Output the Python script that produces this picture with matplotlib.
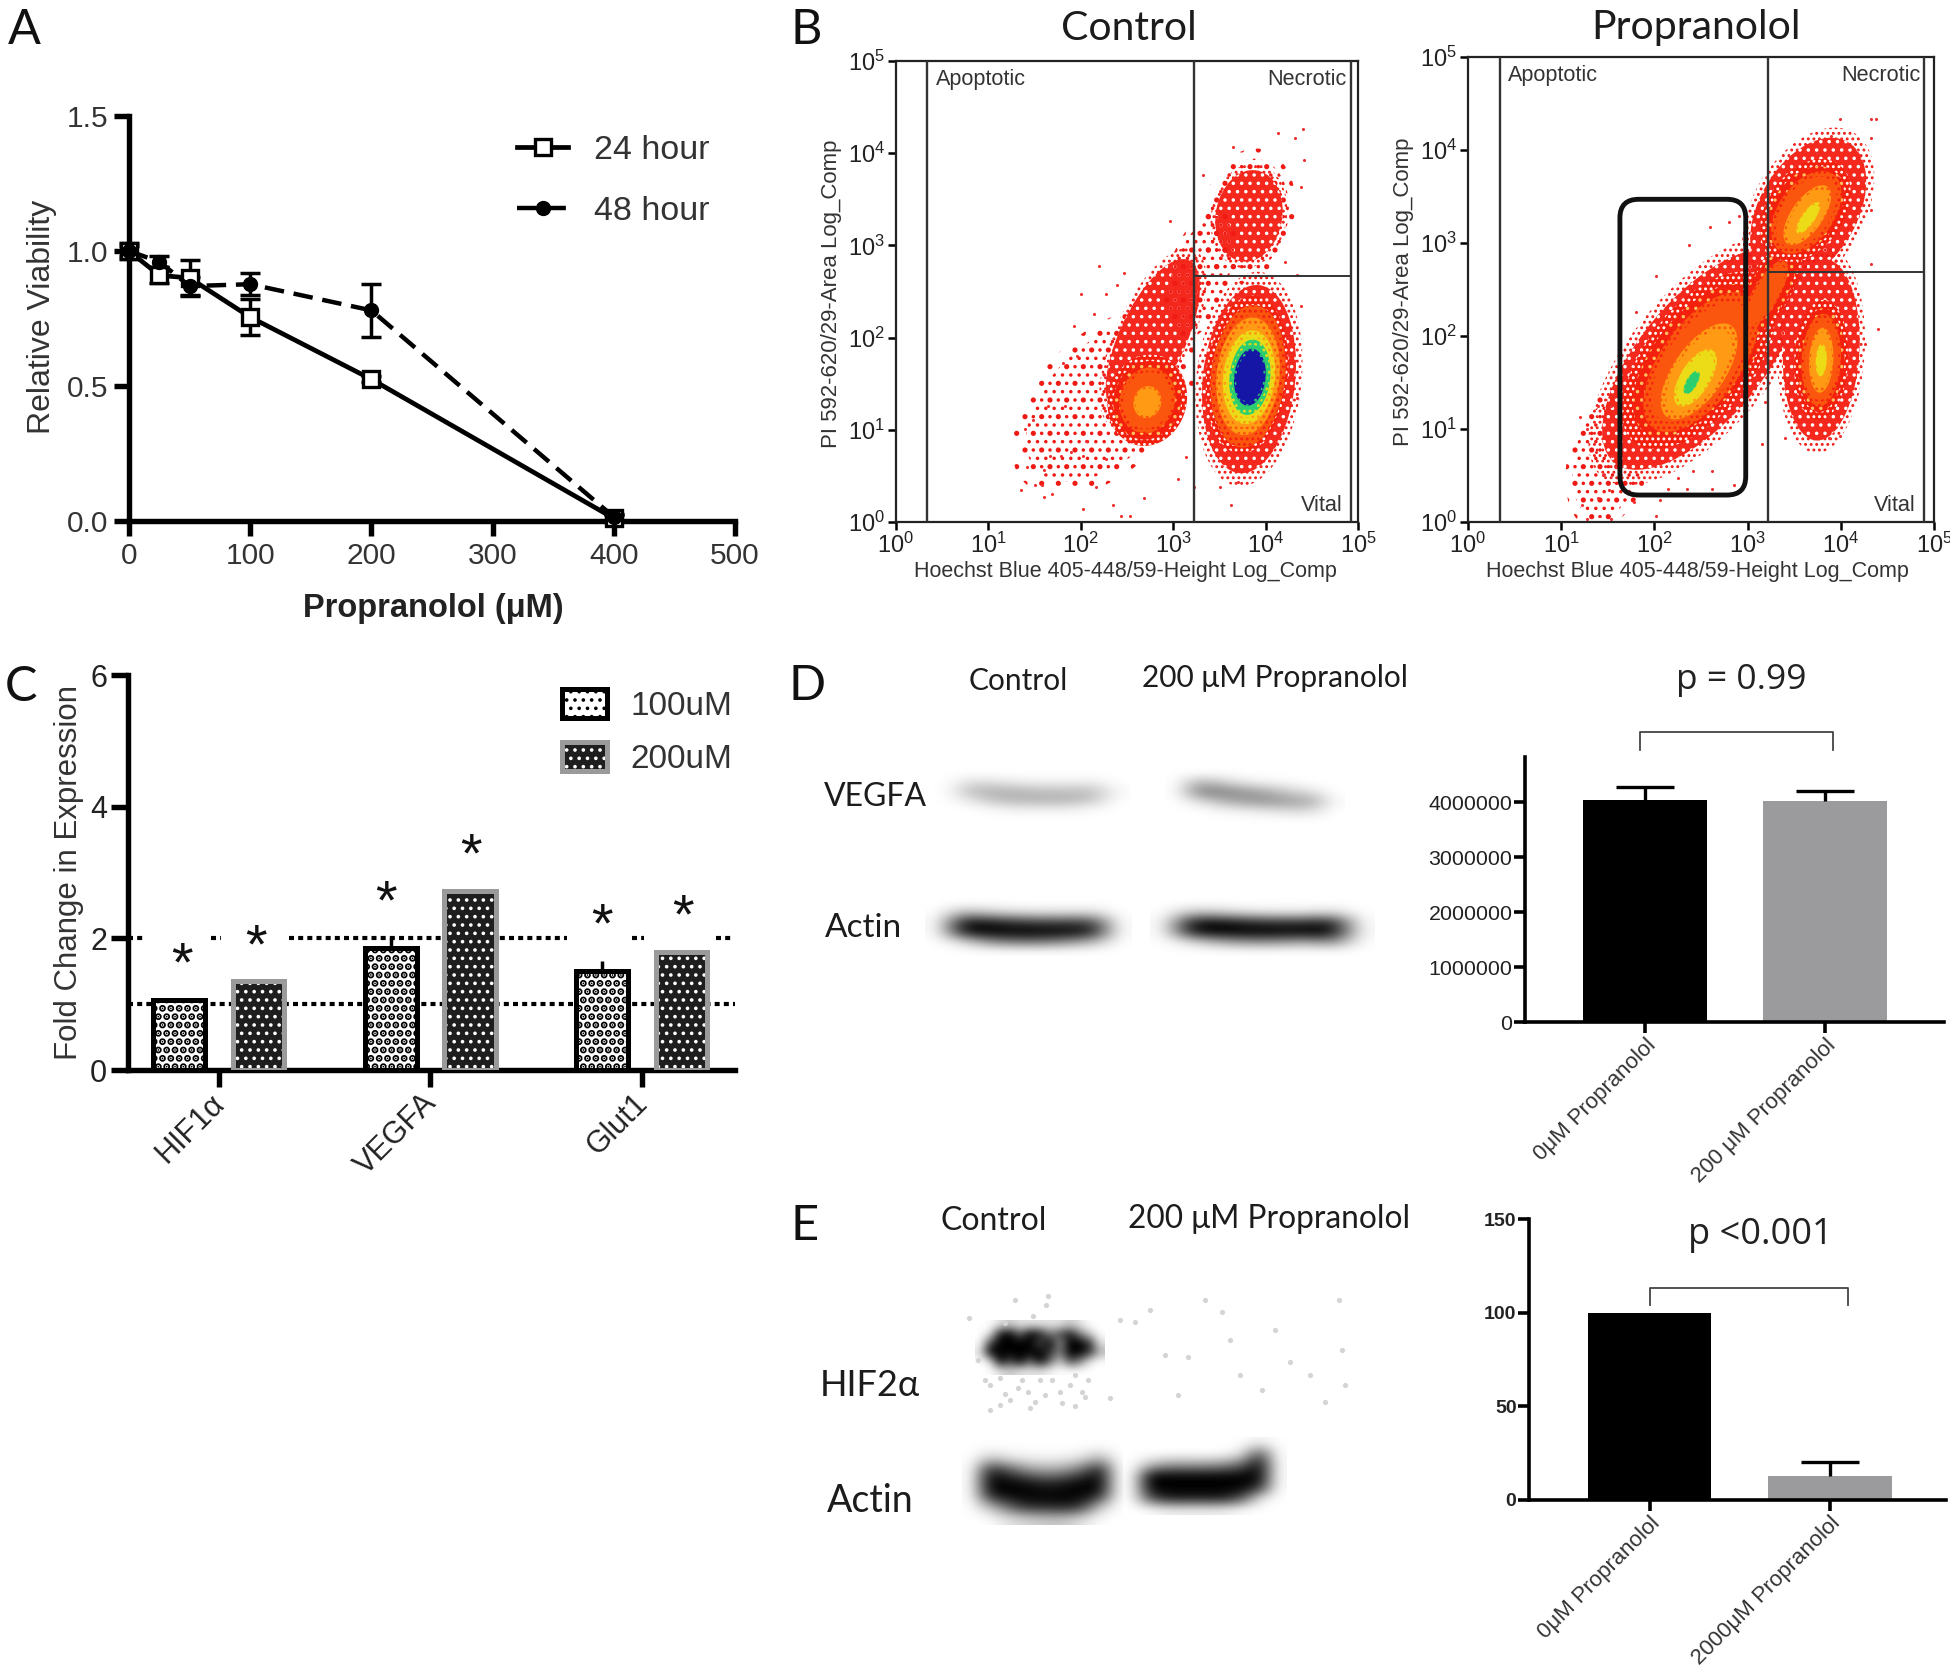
# plot.py - five panel propranolol figure
import numpy as np
import matplotlib
matplotlib.use('Agg')
import matplotlib.pyplot as plt
from matplotlib.patches import Ellipse, FancyBboxPatch, Patch
from matplotlib.transforms import ScaledTranslation

W, H = 1950, 1671
SANS = 'Liberation Sans'
CAL = ['Lato', 'DejaVu Sans']

# Panel A
dose = [0, 25, 50, 100, 200, 400]
via_24 = [1.0, 0.91, 0.90, 0.755, 0.525, 0.01]
err_24 = [0.03, 0.03, 0.068, 0.066, 0.012, 0.012]
via_48 = [1.0, 0.96, 0.87, 0.877, 0.78, 0.015]
err_48 = [0.02, 0.02, 0.033, 0.04, 0.097, 0.01]

# Panel B, cluster outlines in decades: x, y, width, height, angle, density level
density_colors = [None, '#f4281c', '#f4200e', '#fb560e', '#ff9a14', '#ecdc18', '#2ccf70', '#1616a6']
control_clusters = [
    (2.27, 1.30, 1.25, 2.10, -45, 0),
    (2.78, 2.00, 0.72, 1.85, -25, 1),
    (3.82, 3.32, 0.85, 1.25, -10, 0),
    (3.82, 3.32, 0.72, 1.00, -10, 1),
    (3.30, 2.70, 0.60, 1.30, -20, 0),
    (3.82, 1.55, 1.00, 2.05, -6, 1),
    (2.72, 1.32, 0.85, 1.00, -15, 2),
    (2.72, 1.32, 0.60, 0.72, -15, 3),
    (2.72, 1.30, 0.30, 0.35, -15, 4),
    (3.80, 1.60, 0.88, 1.72, -6, 2),
    (3.81, 1.58, 0.80, 1.55, -6, 3),
    (3.81, 1.58, 0.68, 1.28, -6, 4),
    (3.82, 1.57, 0.56, 1.02, -6, 5),
    (3.83, 1.57, 0.44, 0.82, -6, 6),
    (3.83, 1.57, 0.34, 0.62, -6, 7),
]
propra_clusters = [
    (1.52, 0.70, 0.75, 1.35, -15, 0),
    (2.50, 1.75, 1.32, 2.90, -40, 1),
    (3.65, 3.35, 1.05, 1.70, -30, 1),
    (3.79, 1.85, 0.82, 1.95, -3, 1),
    (2.48, 1.74, 1.15, 2.25, -38, 2),
    (2.50, 1.72, 0.85, 1.75, -36, 3),
    (2.48, 1.62, 0.55, 1.20, -35, 4),
    (2.44, 1.55, 0.32, 0.70, -32, 5),
    (2.40, 1.50, 0.12, 0.28, -30, 6),
    (3.19, 2.44, 0.48, 1.35, -30, 2),
    (3.19, 2.44, 0.28, 0.85, -30, 3),
    (3.62, 3.35, 0.82, 1.22, -35, 2),
    (3.63, 3.33, 0.60, 1.00, -35, 3),
    (3.64, 3.30, 0.34, 0.75, -35, 4),
    (3.65, 3.27, 0.14, 0.40, -35, 5),
    (3.79, 1.74, 0.58, 1.30, -3, 2),
    (3.79, 1.74, 0.42, 1.00, -3, 3),
    (3.79, 1.74, 0.26, 0.70, -3, 4),
    (3.79, 1.74, 0.12, 0.35, -3, 5),
]
control_sparse_x = [1.35, 1.50, 1.58, 1.60, 1.69, 1.42, 1.60, 1.67, 1.48, 1.40, 1.64, 1.83, 1.81,
                    1.93, 1.96, 2.00, 2.20, 2.47, 2.39, 2.27, 2.14, 2.97, 3.32, 3.65, 4.13, 4.40,
                    4.32, 4.42, 4.38, 4.38, 4.34, 3.63, 3.51, 3.70, 2.02, 2.43, 2.53, 2.35, 2.16,
                    2.27, 2.02, 1.89, 1.79, 2.06, 3.14, 3.05, 2.68, 3.22, 4.34, 4.21]
control_sparse_y = [0.35, 0.40, 0.40, 0.27, 0.30, 0.60, 0.56, 0.72, 1.11, 1.01, 1.26, 1.26, 1.72,
                    2.13, 1.80, 2.47, 2.78, 2.70, 2.57, 2.47, 2.26, 3.26, 3.76, 4.07, 4.22, 4.26,
                    4.17, 3.93, 3.63, 2.34, 1.34, 0.18, 0.38, 0.43, 0.14, 0.06, 0.07, 0.18, 0.38,
                    0.68, 0.72, 0.76, 0.72, 0.88, 0.70, 0.47, 0.26, 0.38, 2.68, 2.82]
propra_sparse_x = [1.20, 1.28, 1.39, 1.53, 1.47, 1.37, 1.55, 1.45, 1.59, 1.51, 1.39, 1.22, 1.28,
                   1.53, 1.78, 2.06, 2.02, 2.25, 2.41, 2.62, 2.85, 2.62, 2.35, 2.15, 1.74, 1.80,
                   2.02, 2.37, 2.60, 2.80, 2.91, 3.15, 3.40, 3.56, 3.87, 3.99, 4.32, 4.32, 4.40,
                   4.24, 4.08, 3.99, 4.32, 4.38, 3.75, 3.89, 4.32, 4.26, 3.19, 1.78]
propra_sparse_y = [1.13, 1.00, 1.25, 1.25, 0.96, 0.75, 0.71, 0.51, 0.59, 0.34, 0.26, 0.18, 0.03,
                   0.03, 0.22, 0.24, 0.06, 0.47, 0.55, 0.55, 0.40, 0.36, 0.36, 0.36, 1.13, 2.26,
                   2.65, 2.98, 3.17, 3.23, 3.29, 0.84, 0.90, 1.04, 0.90, 0.92, 2.77, 3.35, 2.07,
                   3.68, 4.03, 4.33, 4.33, 4.33, 3.97, 4.15, 4.13, 1.91, 1.29, 1.50]
decades = [0, 1, 2, 3, 4, 5]

# Panel C
genes = ['HIF1α', 'VEGFA', 'Glut1']
fold_100 = [1.07, 1.86, 1.50]
fold_200 = [1.35, 2.72, 1.80]
fold_100_err = [0.0, 0.14, 0.16]
star_100_x = [-0.175, 0.789, 1.813]
star_100 = [1.74, 2.69, 2.33]
star_200_x = [0.175, 1.193, 2.193]
star_200 = [2.01, 3.39, 2.47]

# Panels D and E
vegfa_groups = ['0μM Propranolol', '200 μM Propranolol']
vegfa_means = [4030000, 4020000]
vegfa_errs = [240000, 180000]
hif2_groups = ['0μM Propranolol', '2000μM Propranolol']
hif2_means = [100, 12.8]
hif2_errs = [0, 7.7]

# Blot band darkness, 0 is white and 1 is black
vegfa_left = [[0, 0, 0, 0, 0, 0, 0, 0],
              [0, .12, .10, .06, .05, .05, .06, 0],
              [0, .27, .30, .27, .24, .24, .24, .02],
              [0, .12, .26, .30, .30, .30, .22, 0],
              [0, 0, .05, .08, .08, .08, .03, 0],
              [0, 0, 0, 0, 0, 0, 0, 0]]
vegfa_right = [[0, 0, 0, 0, 0, 0, 0, 0],
               [0, .30, .20, .08, .04, .02, 0, 0],
               [0, .48, .50, .42, .34, .20, .12, 0],
               [0, .12, .28, .38, .42, .38, .34, .02],
               [0, 0, .03, .06, .10, .14, .14, 0],
               [0, 0, 0, 0, 0, 0, 0, 0]]
actin_d_left = [[0, 0, 0, 0, 0, 0, 0, 0],
                [0, .30, .20, .14, .12, .12, .14, 0],
                [0, .95, .90, .80, .75, .75, .75, 0],
                [0, .95, 1, 1, 1, .98, .90, 0],
                [0, .15, .45, .55, .55, .45, .30, 0],
                [0, 0, 0, 0, 0, 0, 0, 0]]
actin_d_right = [[0, 0, 0, 0, 0, 0, 0, 0],
                 [0, .25, .20, .12, .10, .10, .16, 0],
                 [0, .95, .95, .85, .80, .80, .90, 0],
                 [0, .95, 1, 1, 1, 1, 1, 0],
                 [0, .15, .35, .45, .45, .35, .50, 0],
                 [0, 0, 0, 0, 0, 0, 0, 0]]
hif2_band = [[0, 0, .1, .2, .1, .1, .1, .1, .1, .2, .1, 0, 0],
             [0, .1, .9, 1, .6, 1, .9, .5, .7, .9, .5, .2, 0],
             [0, .7, 1, 1, 1, 1, .7, 1, .4, 1, 1, .8, .1],
             [.1, 1, 1, 1, 1, 1, 1, .8, .5, 1, 1, .8, .3],
             [0, .1, 1, .7, 1, .6, 1, .6, .2, .7, .5, .1, 0],
             [0, 0, .1, .2, .1, .1, .1, .05, 0, 0, 0, 0, 0]]
actin_e_left = [[0, 0, 0, 0, 0, 0, 0, 0, 0],
                [0, .20, .10, .05, .05, .05, .10, .30, 0],
                [0, .90, .70, .45, .35, .40, .60, .95, 0],
                [0, 1, 1, .95, .85, .90, 1, 1, 0],
                [0, .90, 1, 1, 1, 1, 1, .90, 0],
                [0, .25, .60, .85, .85, .90, .80, .20, 0],
                [0, 0, .10, .15, .20, .20, .10, 0, 0]]
actin_e_right = [[0, 0, 0, 0, 0, 0, 0, .05, 0],
                 [0, 0, 0, 0, 0, 0, .10, .70, 0],
                 [0, .25, .40, .40, .40, .45, .60, 1, 0],
                 [0, 1, 1, 1, 1, 1, 1, 1, 0],
                 [0, 1, 1, 1, 1, 1, 1, .85, 0],
                 [0, .70, .90, .90, .90, .90, .70, .10, 0],
                 [0, 0, .05, .05, .05, .05, 0, 0, 0]]
blot_speck_x = [1046, 1033, 1005, 969, 990, 1000, 1010, 1028, 1045, 1060, 1075, 1088, 1085, 1075,
                1120, 1135, 1165, 1188, 1205, 1222, 1240, 1262, 1290, 1310, 1342, 1345, 1339,
                1000, 1022, 1035, 985, 1018, 1040, 1062, 1082, 1005, 1030, 1052, 1070, 990,
                1015, 1048, 978, 1110, 1150, 1178, 1230, 1275, 1325]
blot_speck_y = [1305, 1316, 1323, 1318, 1385, 1378, 1400, 1392, 1395, 1392, 1375, 1380, 1397, 1406,
                1320, 1322, 1355, 1357, 1300, 1312, 1375, 1390, 1362, 1375, 1350, 1385, 1300,
                1405, 1380, 1402, 1380, 1388, 1380, 1403, 1392, 1394, 1408, 1380, 1385, 1410,
                1300, 1296, 1360, 1398, 1310, 1395, 1340, 1330, 1402]

plt.rcParams['font.family'] = [SANS, 'DejaVu Sans']
plt.rcParams['mathtext.default'] = 'regular'
plt.rcParams['hatch.linewidth'] = 1.3

fig = plt.figure(figsize=(W / 100, H / 100), dpi=100)


def px_axes(left, top, right, bottom):
    return fig.add_axes([left / W, 1 - bottom / H, (right - left) / W, (bottom - top) / H])


def label(x, y, text, size, family=CAL, color='#1c1c1c', **kw):
    kw.setdefault('ha', 'center')
    kw.setdefault('va', 'center')
    fig.text(x / W, 1 - y / H, text, fontsize=size, family=family, color=color, **kw)


def prism_axes(ax, lw, ticklen):
    for side in ['top', 'right']:
        ax.spines[side].set_visible(False)
    for side in ['left', 'bottom']:
        ax.spines[side].set_linewidth(lw)
    ax.tick_params(width=lw, length=ticklen)


# ---- A
ax = px_axes(129, 116, 735, 521)
ax.errorbar(dose, via_24, yerr=err_24, fmt='none', ecolor='black', elinewidth=2.5, capsize=7,
            capthick=2.5, clip_on=False, zorder=3)
ax.errorbar(dose, via_48, yerr=err_48, fmt='none', ecolor='black', elinewidth=2.5, capsize=7,
            capthick=2.5, clip_on=False, zorder=3)
line_24, = ax.plot(dose, via_24, '-', color='black', lw=3.4, marker='s', ms=12, mfc='white',
                   mew=2.4, clip_on=False, zorder=4, label='24 hour')
line_48, = ax.plot(dose, via_48, color='black', lw=3.2, ls=(0, (4.4, 2.2)), marker='o', ms=10,
                   clip_on=False, zorder=5, label='48 hour')
ax.set_xlim(0, 500)
ax.set_ylim(0, 1.5)
ax.set_xticks([0, 100, 200, 300, 400, 500])
ax.set_yticks([0, 0.5, 1.0, 1.5])
ax.set_yticklabels(['0.0', '0.5', '1.0', '1.5'])
prism_axes(ax, 3.9, 11)
ax.tick_params(labelsize=21.5, labelcolor='#333333', pad=4)
ax.legend(handles=[line_24, line_48], loc='center left', bbox_to_anchor=(517 / W, 1 - 181 / H),
          bbox_transform=fig.transFigure, frameon=False, fontsize=24.5, labelcolor='#333333',
          handlelength=1.5, handletextpad=0.75, labelspacing=0.87, borderpad=0, borderaxespad=0)
label(433, 608, 'Propranolol (μM)', 23.5, family=[SANS], color='#222222', fontweight='bold')
label(42, 317, 'Relative Viability', 23, family=[SANS], color='#333333', rotation=90)


# ---- B
def speck_layer(ax, cx, cy, w, h, ang, face, speck, pattern, z):
    ax.add_patch(Ellipse((cx, cy), w, h, angle=ang, facecolor=face, edgecolor=speck, hatch=pattern,
                         lw=0, zorder=z))


def flow_panel(box, clusters, sparse_x, sparse_y, gate_l, gate_m, gate_r, gate_h):
    ax = px_axes(*box)
    for cx, cy, w, h, ang, level in clusters:
        c = density_colors[level]
        if level == 0:
            speck_layer(ax, cx, cy, w * 1.18, h * 1.18, ang, 'none', '#f01a14', '.', 1)
            speck_layer(ax, cx, cy, w, h, ang, 'none', '#f01a14', '..', 1)
        elif level == 1:
            speck_layer(ax, cx, cy, w * 1.14, h * 1.14, ang, 'none', '#f01a14', '...', 1)
            speck_layer(ax, cx, cy, w, h, ang, c, '#ffffff', '..', 1)
        elif level == 2:
            speck_layer(ax, cx, cy, w, h, ang, c, '#ffffff', '...', 2)
            speck_layer(ax, cx, cy, w * 0.86, h * 0.86, ang, c, '#ffc060', '..', 2)
        else:
            # stippled rim so the density steps do not show hard edges
            speck_layer(ax, cx, cy, w, h, ang, c, density_colors[level - 1], '...', level)
            speck_layer(ax, cx, cy, w * 0.86, h * 0.86, ang, c, c, '', level)
    ax.scatter(sparse_x, sparse_y, s=5, color='#f03030', lw=0, zorder=1)
    ax.set_xlim(0, 5)
    ax.set_ylim(0, 5)
    ax.set_xticks(decades)
    ax.set_yticks(decades)
    ax.set_xticklabels(['$10^{%d}$' % d for d in decades])
    ax.set_yticklabels(['$10^{%d}$' % d for d in decades])
    ax.tick_params(labelsize=17, width=1.8, length=6, pad=2, labelcolor='#222222')
    for side in ax.spines.values():
        side.set_linewidth(1.6)
        side.set_color('#222222')
    ax.plot([gate_l, gate_l], [0, 5], color='#333333', lw=1.7, zorder=9)
    ax.plot([gate_m, gate_m], [0, 5], color='#333333', lw=1.7, zorder=9)
    ax.plot([gate_r, gate_r], [0, 5], color='#333333', lw=1.7, zorder=9)
    ax.plot([gate_m, gate_r], [gate_h, gate_h], color='#333333', lw=1.4, zorder=9)
    ax.text(gate_l + 0.09, 4.80, 'Apoptotic', fontsize=15.6, color='#333333', va='center', zorder=10)
    ax.text(gate_r - 0.04, 4.80, 'Necrotic', fontsize=15.6, color='#333333', va='center', ha='right',
            zorder=10)
    ax.text(gate_r - 0.09, 0.18, 'Vital', fontsize=15.6, color='#333333', va='center', ha='right',
            zorder=10)
    return ax


flow_panel((896, 61, 1358, 522), control_clusters, control_sparse_x, control_sparse_y,
           0.34, 3.23, 4.92, 2.67)
ax = flow_panel((1468, 57, 1934, 522), propra_clusters, propra_sparse_x, propra_sparse_y,
                0.34, 3.22, 4.89, 2.69)
ax.add_patch(FancyBboxPatch((1.63, 0.29), 1.35, 3.18, boxstyle='round,pad=0,rounding_size=0.2',
                            fill=False, edgecolor='#111111', lw=3.5, zorder=8))
xlab = 'Hoechst Blue 405-448/59-Height Log_Comp'
ylab = 'PI 592-620/29-Area Log_Comp'
label(1125, 571, xlab, 15.5, family=[SANS], color='#333333')
label(1697, 571, xlab, 15.5, family=[SANS], color='#333333')
label(832, 294, ylab, 16, family=[SANS], color='#333333', rotation=90)
label(1404, 292, ylab, 16, family=[SANS], color='#333333', rotation=90)
label(1129, 28, 'Control', 29.5)
label(1696, 27, 'Propranolol', 29.5)

# ---- C
ax = px_axes(128, 675, 735, 1070)
pos = np.arange(len(genes))
offset = 0.187
bar_w = 0.245
ax.hlines(1, -0.43, 2.44, color='black', lw=3, ls=(0, (1.2, 1)), zorder=1)
for a, b in [(-0.43, -0.354), (-0.037, 0.01), (0.329, 1.646), (1.952, 2.01), (2.35, 2.435)]:
    ax.hlines(2, a, b, color='black', lw=3, ls=(0, (1.2, 1)), zorder=1)
ax.errorbar(pos - offset, fold_100, yerr=[[0] * 3, fold_100_err], fmt='none', ecolor='black',
            elinewidth=2.5, capsize=0, zorder=2)
plt.rcParams['hatch.linewidth'] = 3.6
ax.bar(pos - offset, fold_100, bar_w, facecolor='white', edgecolor='black', lw=3.6, hatch='..', zorder=3)
h_100 = Patch(facecolor='white', edgecolor='black', lw=3.6, hatch='..')
plt.rcParams['hatch.linewidth'] = 1.4
ax.bar(pos + offset, fold_200, bar_w, facecolor='#1e1e1e', edgecolor='white', lw=0, hatch='..', zorder=3)
ax.bar(pos + offset, fold_200, bar_w, fill=False, edgecolor='#9a9a9a', lw=3.6, zorder=4)
h_200 = (Patch(facecolor='#1e1e1e', edgecolor='white', lw=0, hatch='..'),
         Patch(fill=False, edgecolor='#9a9a9a', lw=3.6))
for x, y in zip(star_100_x, star_100):
    ax.annotate('*', (x, y), xytext=(0, -8), textcoords='offset points', fontsize=40, ha='center',
                va='center', color='#111111', zorder=5)
for x, y in zip(star_200_x, star_200):
    ax.annotate('*', (x, y), xytext=(0, -8), textcoords='offset points', fontsize=40, ha='center',
                va='center', color='#111111', zorder=5)
ax.set_xlim(-0.43, 2.44)
ax.set_ylim(0, 6)
ax.set_yticks([0, 2, 4, 6])
ax.set_xticks(pos)
ax.set_xticklabels(genes, rotation=45, ha='right', rotation_mode='anchor')
prism_axes(ax, 3.9, 12)
ax.tick_params(axis='x', labelsize=22, labelcolor='#222222', pad=1)
ax.tick_params(axis='y', labelsize=22, labelcolor='#222222', pad=3)
for tick_label in ax.get_xticklabels():
    tick_label.set_transform(tick_label.get_transform() + ScaledTranslation(-0.09, 0, fig.dpi_scale_trans))
ax.legend([h_100, h_200], ['100uM', '200uM'], loc='center left', bbox_to_anchor=(562 / W, 1 - 732 / H),
          bbox_transform=fig.transFigure, frameon=False, fontsize=24, labelcolor='#333333',
          handlelength=1.36, handleheight=0.96, handletextpad=0.7, labelspacing=0.62, borderpad=0,
          borderaxespad=0)
label(69, 872, 'Fold Change in Expression', 22.5, family=[SANS], color='#333333', rotation=90)


# ---- D and E bar charts
def small_bars(box, xlim, ylim, groups, means, errs, yticks, yticklabels, tick_size, tick_weight):
    ax = px_axes(*box)
    pos = np.arange(len(groups))
    ax.bar(pos, means, 0.686, color=['black', '#9b9b9e'], zorder=2)
    for x, m, e in zip(pos, means, errs):
        if e > 0:
            _, caps, _ = ax.errorbar(x, m, yerr=[[0], [e]], fmt='none', ecolor='black', elinewidth=2.4,
                                     capsize=21, capthick=2.4, zorder=3)
            caps[0].set_visible(False)
    ax.set_xlim(*xlim)
    ax.set_ylim(*ylim)
    ax.set_xticks(pos)
    ax.set_xticklabels(groups, rotation=45, ha='right', rotation_mode='anchor', fontsize=15.9,
                       color='#333333')
    ax.set_yticks(yticks)
    ax.set_yticklabels(yticklabels, fontsize=tick_size, color='#222222', fontweight=tick_weight)
    prism_axes(ax, 2.6, 8)
    ax.tick_params(pad=1)
    return ax


ax = small_bars((1525, 757, 1944, 1022), (-0.667, 1.661), (0, 4820000), vegfa_groups, vegfa_means,
                vegfa_errs, [0, 1000000, 2000000, 3000000, 4000000],
                ['0', '1000000', '2000000', '3000000', '4000000'], 15.4, 'normal')
ax.plot([-0.03, -0.03, 1.044, 1.044], [4950000, 5270000, 5270000, 4950000], color='#444444', lw=1.3,
        clip_on=False)
label(1741, 680, 'p = 0.99', 25.5, family=['Open Sans'], color='#222222')

ax = small_bars((1529, 1219, 1946, 1500), (-0.668, 1.643), (0, 150), hif2_groups, hif2_means,
                hif2_errs, [0, 50, 100, 150], ['0', '50', '100', '150'], 14, 'bold')
ax.plot([0, 0, 1.1, 1.1], [104, 113, 113, 104], color='#444444', lw=1.3, clip_on=False)
label(1760, 1235, 'p <0.001', 26, family=['Open Sans'], color='#222222')

# ---- D and E blots, one overlay in figure pixels
blot = fig.add_axes([0, 0, 1, 1], zorder=-1)
bands = [(vegfa_left, (935, 1130, 822, 768)),
         (vegfa_right, (1165, 1345, 825, 768)),
         (actin_d_left, (925, 1132, 956, 898)),
         (actin_d_right, (1150, 1375, 956, 898)),
         (hif2_band, (975, 1105, 1375, 1320)),
         (actin_e_left, (962, 1128, 1525, 1440)),
         (actin_e_right, (1123, 1287, 1515, 1437))]
for arr, extent in bands:
    blot.imshow(np.array(arr), extent=extent, cmap='gray_r', vmin=0, vmax=1, aspect='auto',
                interpolation='bicubic')
blot.scatter(blot_speck_x, blot_speck_y, s=14, color='#d4d4d4', lw=0)
blot.set_xlim(0, W)
blot.set_ylim(H, 0)
blot.axis('off')

label(1018, 681, 'Control', 21.5)
label(1275, 678, '200 μM Propranolol', 21.5)
label(875, 797, 'VEGFA', 23)
label(863, 928, 'Actin', 24)
label(994, 1221, 'Control', 23)
label(1269, 1219, '200 μM Propranolol', 22.8)
label(870, 1386, 'HIF2α', 26)
label(870, 1501, 'Actin', 27)

# panel letters
label(24, 30, 'A', 35, color='#111111')
label(806, 30, 'B', 35, color='#111111')
label(21, 687, 'C', 35, color='#111111')
label(807, 686, 'D', 35, color='#111111')
label(805, 1226, 'E', 35, color='#111111')

fig.savefig('out.png', dpi=100)
plt.close(fig)
